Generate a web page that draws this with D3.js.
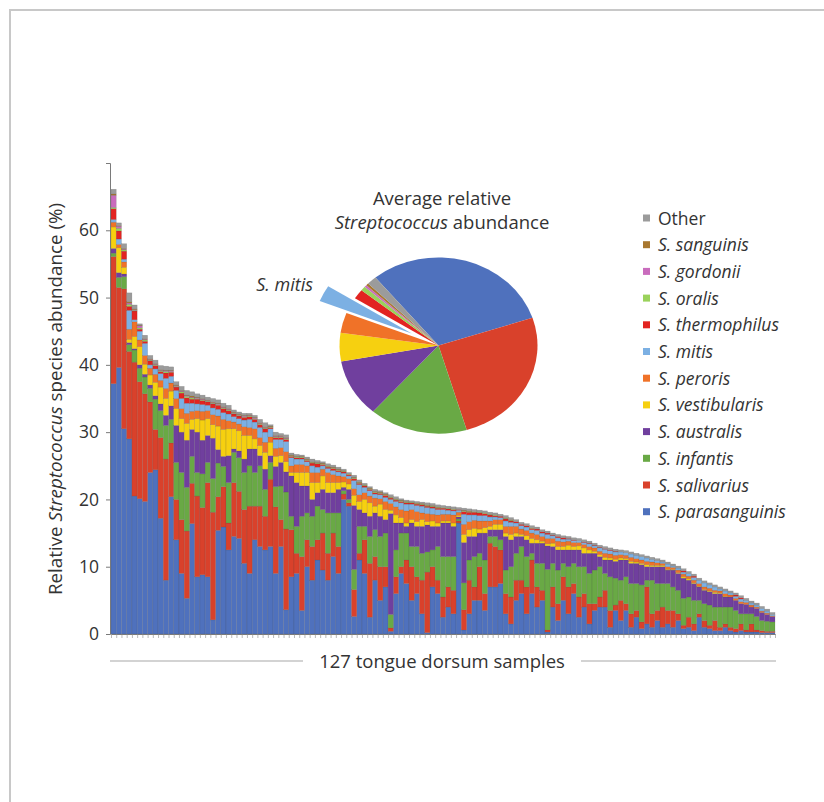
<!DOCTYPE html>
<html>
<head>
<meta charset="utf-8">
<script src="https://cdn.jsdelivr.net/npm/d3@7"></script>
<style>
  body { margin: 0; background: #fff; }
  text { font-family: "Open Sans", sans-serif; fill: #333; }
</style>
</head>
<body>
<div id="chart"></div>
<script>
// series keys, bottom of the stack first
const species = ["parasanguinis", "salivarius", "infantis", "australis", "vestibularis", "peroris",
  "mitis", "thermophilus", "oralis", "gordonii", "sanguinis", "other"];
const legendNames = ["S. parasanguinis", "S. salivarius", "S. infantis", "S. australis", "S. vestibularis",
  "S. peroris", "S. mitis", "S. thermophilus", "S. oralis", "S. gordonii", "S. sanguinis", "Other"];
const colors = ["#4f71bd", "#d9412b", "#69a945", "#703f9e", "#f6d010", "#f07228",
  "#7cb0e3", "#e22421", "#9ad25b", "#c96cbd", "#a8772f", "#9b9b9b"];

// relative abundance (%) per sample, 127 tongue dorsum samples
const parasanguinis = [37.2,39.6,30.5,29.0,20.5,20.1,19.7,24.0,24.4,17.2,
  8.0,20.4,14.0,9.0,5.3,16.4,8.5,8.8,8.5,2.1,
  15.4,15.9,12.5,14.5,14.2,10.5,9.0,14.0,13.0,12.5,
  13.0,9.0,13.0,3.6,8.5,9.0,3.5,10.0,8.0,11.0,
  9.5,8.0,11.5,9.0,20.0,19.0,2.6,11.0,9.0,2.5,
  8.0,5.0,7.0,0.4,6.0,9.0,7.5,5.0,6.0,3.0,
  0.2,7.0,6.0,2.5,4.0,3.0,16.5,0.6,3.0,5.0,
  5.0,3.5,7.0,7.0,7.5,3.0,1.5,5.0,6.0,3.0,
  6.0,4.0,5.0,0.3,4.0,2.0,5.0,3.0,6.0,2.5,
  4.0,1.5,3.5,4.0,4.0,1.0,3.5,2.0,3.5,1.0,
  2.5,0.8,1.5,1.0,2.0,1.0,1.5,1.0,2.0,0.8,
  1.0,0.5,2.5,1.0,0.8,0.5,0.5,1.0,0.5,0.3,
  0.5,0.3,0.3,0.3,0.2,0.2,0.2];
const salivarius = [18.9,11.9,20.8,13.0,19.9,17.4,16.0,10.5,6.0,12.0,
  18.0,8.0,6.0,8.0,10.0,6.0,12.0,10.0,14.0,16.0,
  5.0,6.0,4.0,8.0,7.0,8.0,10.0,5.0,6.0,5.0,
  10.0,9.9,4.0,12.0,7.0,3.0,8.0,4.0,5.0,3.0,
  5.5,4.0,3.5,4.0,0.8,0.5,4.0,1.0,5.0,8.0,
  3.5,5.0,3.0,0.5,2.5,1.0,3.5,5.0,2.5,5.0,
  9.0,3.0,2.0,3.0,3.0,3.5,0.3,3.0,5.0,2.0,
  5.0,2.5,6.5,6.0,5.0,3.0,4.0,3.0,2.0,4.0,
  5.0,3.0,1.5,0.3,3.0,2.5,3.5,4.0,1.5,3.0,
  2.0,3.0,1.0,1.5,2.5,2.5,0.8,3.0,1.0,2.0,
  1.0,1.0,5.5,2.0,1.5,3.0,2.0,2.5,1.0,0.5,
  1.5,1.0,0.5,1.0,0.5,1.5,0.5,0.5,0.5,0.5,
  1.0,0.3,1.2,0.3,0.3,0.2,0.2];
const infantis = [0.5,1.5,1.8,1.0,1.8,2.0,2.5,2.0,4.5,4.0,
  5.0,3.5,5.5,7.0,6.5,4.0,3.5,5.0,3.0,5.0,
  5.0,3.0,6.0,4.5,5.0,5.5,6.0,5.0,6.0,4.0,
  2.5,3.0,5.0,5.5,2.0,4.0,6.0,4.0,4.5,5.0,
  3.5,6.0,3.0,5.0,0.5,0.5,3.0,4.0,2.0,4.0,
  4.0,4.5,5.0,2.0,4.0,5.0,4.0,3.0,4.5,4.0,
  3.0,2.5,5.0,6.0,4.5,5.0,0.3,4.0,3.0,4.5,
  2.0,5.0,1.0,1.5,1.5,3.5,4.5,4.0,5.0,4.5,
  1.0,3.5,4.0,9.0,3.5,5.0,2.0,3.0,3.0,4.5,
  4.0,4.5,5.0,4.5,2.5,5.0,4.0,3.0,4.0,4.5,
  4.0,5.5,1.0,5.0,4.0,3.5,4.0,3.5,3.5,4.0,
  3.0,3.5,2.0,2.5,3.0,2.0,3.0,2.5,3.0,2.7,
  1.5,2.4,1.5,2.0,1.5,1.5,1.4];
const australis = [0.7,0.7,0.4,0.3,0.2,0.5,0.4,0.5,0.5,1.0,
  1.5,2.0,5.5,6.0,7.0,4.0,6.0,5.0,4.0,6.0,
  2.0,1.5,4.0,0.5,1.0,2.0,2.5,3.5,1.5,3.0,
  1.0,3.0,3.5,3.0,6.0,6.5,4.5,4.0,2.5,2.0,
  3.0,3.0,3.0,3.5,0.5,1.5,9.5,2.5,2.0,3.0,
  2.5,3.0,2.0,15.0,4.0,1.5,1.0,3.5,3.0,4.0,
  4.0,3.5,3.0,5.0,5.0,4.5,0.3,6.0,3.5,3.0,
  3.0,4.0,1.0,1.0,1.5,5.0,4.0,2.5,1.5,2.5,
  1.5,3.0,3.0,3.5,2.5,3.0,2.0,2.5,2.0,2.5,
  2.0,3.0,2.5,1.5,2.0,2.5,2.5,3.0,2.5,3.0,
  3.0,3.0,2.0,2.0,2.5,2.5,2.0,2.5,2.5,3.0,
  2.5,2.5,2.0,2.0,2.0,2.0,2.0,1.5,1.5,1.5,
  1.5,1.4,1.0,1.2,1.2,1.0,0.8];
const vestibularis = [3.2,3.7,1.0,0.5,1.8,2.7,1.5,1.5,2.0,2.5,
  2.5,2.2,2.5,2.0,2.5,1.5,2.0,3.0,2.5,2.0,
  3.5,4.0,4.0,3.0,3.0,3.5,2.0,1.5,1.5,2.5,
  2.0,1.5,1.0,1.5,0.5,1.5,2.0,2.0,2.5,1.5,
  2.0,1.5,1.5,1.0,0.8,0.8,1.5,1.2,2.0,2.0,
  1.0,1.8,1.5,0.5,1.2,0.8,0.5,0.5,0.7,1.0,
  0.5,0.8,0.5,0.3,0.3,0.5,0.2,1.2,1.0,1.2,
  0.6,0.8,0.5,0.8,0.8,0.5,0.8,0.5,0.3,0.6,
  0.7,0.5,0.3,0.3,0.5,0.5,0.5,0.7,0.5,0.6,
  0.8,0.5,0.3,0.3,0.4,0.3,0.3,0.3,0.2,0.3,
  0.2,0.2,0.3,0.2,0.2,0.2,0.1,0.1,0.1,0.2,
  0.2,0.1,0.1,0.1,0.1,0.2,0.1,0.1,0.0,0.0,
  0.0,0.0,0.0,0.0,0.0,0.0,0.0];
const peroris = [0.7,0.5,0.8,1.5,2.2,1.0,1.3,1.0,1.2,1.0,
  1.5,1.2,1.5,1.5,1.5,1.2,1.2,1.3,1.2,1.5,
  1.5,1.5,1.2,1.0,1.0,1.3,1.2,1.5,1.2,1.5,
  0.8,1.2,1.2,1.5,1.0,1.2,1.2,1.0,1.5,1.5,
  1.0,1.5,1.2,1.0,0.8,0.8,1.0,1.0,1.0,1.0,
  1.2,0.8,1.2,1.0,1.2,1.2,1.8,1.5,1.5,1.0,
  1.2,1.0,1.2,1.0,1.0,1.2,0.5,1.5,1.2,1.2,
  1.2,1.0,0.8,0.7,0.7,1.0,1.2,1.0,0.8,0.8,
  0.8,0.8,0.7,0.8,0.7,0.8,0.7,0.6,0.6,0.5,
  0.5,0.5,0.5,0.5,0.6,0.6,0.6,0.5,0.5,0.6,
  0.5,0.5,0.5,0.5,0.4,0.3,0.4,0.3,0.4,0.4,
  0.4,0.4,0.4,0.4,0.4,0.3,0.3,0.4,0.3,0.3,
  0.3,0.3,0.3,0.2,0.2,0.2,0.1];
const mitis = [0.4,0.8,0.4,2.8,0.3,1.3,1.8,0.5,0.8,1.0,
  1.5,1.0,1.2,1.5,1.5,1.2,1.0,1.0,0.8,1.0,
  1.0,1.0,1.0,0.8,0.8,1.0,1.2,1.0,1.5,1.5,
  1.2,1.3,1.2,1.5,1.2,0.8,0.8,0.6,1.0,0.8,
  0.5,0.6,0.6,0.6,0.5,0.4,1.2,1.5,0.8,0.8,
  0.6,0.6,0.6,0.6,0.8,1.0,1.0,0.8,0.9,1.0,
  0.9,0.9,0.8,0.7,0.6,0.6,0.3,1.5,1.0,0.8,
  0.8,0.8,0.6,0.4,0.3,0.8,0.6,0.5,0.5,0.5,
  0.5,0.6,0.5,0.6,0.4,0.5,0.4,0.3,0.3,0.3,
  0.3,0.4,0.3,0.5,0.6,0.5,0.5,0.4,0.4,0.5,
  0.5,0.5,0.5,0.4,0.3,0.2,0.4,0.2,0.3,0.3,
  0.4,0.4,0.5,0.6,0.5,0.5,0.3,0.4,0.3,0.3,
  0.4,0.3,0.3,0.3,0.4,0.3,0.2];
const thermophilus = [1.6,1.2,1.2,0.6,1.3,0.3,0.3,0.6,0.5,0.3,
  0.8,0.6,0.5,0.8,0.8,0.6,0.7,0.6,0.5,0.6,
  0.6,0.6,0.5,0.4,0.4,0.4,0.4,0.4,0.4,0.5,
  0.2,0.3,0.3,0.3,0.2,0.2,0.2,0.2,0.4,0.5,
  0.2,0.2,0.3,0.2,0.2,0.2,0.3,0.2,0.2,0.2,
  0.2,0.2,0.3,0.2,0.2,0.2,0.2,0.2,0.2,0.2,
  0.2,0.2,0.2,0.2,0.2,0.2,0.1,0.4,0.4,0.4,
  0.4,0.3,0.3,0.2,0.2,0.3,0.2,0.2,0.2,0.2,
  0.2,0.2,0.2,0.2,0.1,0.2,0.2,0.1,0.1,0.0,
  0.1,0.1,0.1,0.1,0.1,0.1,0.1,0.0,0.0,0.0,
  0.0,0.0,0.0,0.0,0.0,0.0,0.0,0.0,0.0,0.2,
  0.0,0.2,0.0,0.0,0.0,0.0,0.0,0.0,0.0,0.2,
  0.2,0.0,0.0,0.0,0.0,0.0,0.0];
const oralis = [0.2,0.4,0.2,0.3,0.1,0.2,0.2,0.1,0.1,0.1,
  0.2,0.1,0.1,0.2,0.2,0.2,0.1,0.1,0.1,0.1,
  0.1,0.1,0.1,0.1,0.1,0.1,0.1,0.1,0.1,0.1,
  0.1,0.1,0.1,0.1,0.1,0.1,0.1,0.1,0.1,0.1,
  0.1,0.1,0.1,0.1,0.1,0.1,0.1,0.1,0.1,0.1,
  0.1,0.1,0.1,0.1,0.1,0.1,0.1,0.1,0.1,0.1,
  0.1,0.1,0.1,0.1,0.1,0.1,0.0,0.1,0.1,0.1,
  0.1,0.1,0.1,0.1,0.0,0.1,0.1,0.0,0.0,0.0,
  0.1,0.0,0.0,0.0,0.0,0.0,0.0,0.0,0.0,0.0,
  0.0,0.0,0.0,0.0,0.0,0.0,0.0,0.0,0.0,0.0,
  0.0,0.0,0.0,0.0,0.0,0.0,0.0,0.0,0.0,0.0,
  0.0,0.0,0.0,0.0,0.0,0.0,0.0,0.0,0.0,0.0,
  0.0,0.0,0.0,0.0,0.0,0.0,0.0];
const gordonii = [1.8,0.3,0.1,0.2,0.1,0.3,0.1,0.1,0.1,0.1,
  0.1,0.1,0.1,0.1,0.1,0.1,0.1,0.1,0.1,0.1,
  0.1,0.1,0.1,0.1,0.1,0.1,0.1,0.1,0.1,0.1,
  0.0,0.1,0.1,0.1,0.0,0.0,0.0,0.0,0.0,0.0,
  0.0,0.0,0.0,0.0,0.0,0.0,0.0,0.0,0.0,0.0,
  0.0,0.0,0.0,0.0,0.0,0.0,0.0,0.0,0.0,0.0,
  0.0,0.0,0.0,0.0,0.0,0.0,0.0,0.0,0.0,0.0,
  0.0,0.0,0.0,0.0,0.0,0.0,0.0,0.0,0.0,0.0,
  0.0,0.0,0.0,0.0,0.0,0.0,0.0,0.0,0.0,0.0,
  0.0,0.0,0.0,0.0,0.0,0.0,0.0,0.0,0.0,0.0,
  0.0,0.0,0.0,0.0,0.0,0.0,0.0,0.0,0.0,0.0,
  0.0,0.0,0.0,0.0,0.0,0.0,0.0,0.0,0.0,0.0,
  0.0,0.0,0.0,0.0,0.0,0.0,0.0];
const sanguinis = [0.2,0.1,0.1,0.2,0.1,0.1,0.1,0.1,0.1,0.1,
  0.1,0.1,0.1,0.1,0.1,0.2,0.1,0.1,0.1,0.1,
  0.1,0.1,0.1,0.1,0.1,0.1,0.1,0.1,0.1,0.1,
  0.1,0.1,0.1,0.1,0.1,0.1,0.1,0.1,0.1,0.1,
  0.1,0.1,0.1,0.1,0.1,0.0,0.1,0.1,0.1,0.1,
  0.1,0.1,0.1,0.1,0.1,0.1,0.1,0.0,0.1,0.1,
  0.1,0.1,0.1,0.0,0.0,0.0,0.0,0.1,0.1,0.0,
  0.0,0.0,0.0,0.0,0.0,0.1,0.1,0.0,0.0,0.0,
  0.0,0.0,0.0,0.0,0.0,0.0,0.0,0.0,0.0,0.0,
  0.0,0.0,0.0,0.0,0.0,0.0,0.0,0.0,0.0,0.0,
  0.0,0.0,0.0,0.0,0.0,0.0,0.0,0.0,0.0,0.0,
  0.0,0.0,0.0,0.0,0.0,0.0,0.0,0.0,0.0,0.0,
  0.0,0.0,0.0,0.0,0.0,0.0,0.0];
const other = [0.7,0.4,0.7,1.3,0.6,0.2,0.5,0.5,0.5,0.6,
  0.6,0.5,0.5,0.6,0.7,0.6,0.5,0.5,0.4,0.5,
  0.5,0.5,0.5,0.3,0.3,0.3,0.2,0.3,0.5,0.6,
  0.2,0.5,0.3,0.4,0.3,0.3,0.2,0.3,0.4,0.3,
  0.2,0.3,0.3,0.3,0.2,0.2,0.3,0.3,0.2,0.2,
  0.3,0.2,0.2,0.3,0.3,0.2,0.2,0.2,0.2,0.2,
  0.3,0.3,0.3,0.3,0.3,0.3,0.3,0.3,0.3,0.3,
  0.3,0.3,0.3,0.3,0.3,0.3,0.3,0.3,0.3,0.3,
  0.3,0.3,0.3,0.3,0.3,0.3,0.3,0.3,0.3,0.3,
  0.3,0.3,0.3,0.3,0.3,0.3,0.3,0.3,0.3,0.3,
  0.3,0.3,0.3,0.3,0.3,0.3,0.3,0.3,0.3,0.3,
  0.3,0.3,0.3,0.3,0.3,0.3,0.3,0.3,0.3,0.3,
  0.3,0.3,0.3,0.3,0.3,0.3,0.3];

// average share (%) shown in the pie, same order as species
const pieShare = [30.9, 25.5, 16.1, 10.6, 5.2, 3.7, 3.0, 1.8, 0.8, 0.4, 0.4, 1.6];
const yTicks = [0, 10, 20, 30, 40, 50, 60];

const width = 824, height = 802;
const sampleCount = parasanguinis.length;

const svg = d3.select("#chart").append("svg")
  .attr("width", width)
  .attr("height", height);

// frame
svg.append("path")
  .attr("d", "M10,802V10H824")
  .attr("fill", "none")
  .attr("stroke", "#c8c8c8")
  .attr("stroke-width", 2);

const seriesValues = [parasanguinis, salivarius, infantis, australis, vestibularis, peroris,
  mitis, thermophilus, oralis, gordonii, sanguinis, other];

let rows = d3.range(sampleCount).map(i => {
  let r = { sample: i };
  species.forEach((s, k) => r[s] = seriesValues[k][i]);
  return r;
});
let stacked = d3.stack().keys(species)(rows);

const x = d3.scaleBand().domain(d3.range(sampleCount)).range([111, 775]).padding(0);
const xEdge = d3.scaleLinear().domain([0, sampleCount]).range([111, 775]);
const y = d3.scaleLinear().domain([0, 70]).range([634, 163]);

svg.append("g")
  .selectAll("g")
  .data(stacked)
  .join("g")
    .attr("fill", (d, i) => colors[i])
  .selectAll("rect")
  .data(d => d)
  .join("rect")
    .attr("x", d => x(d.data.sample))
    .attr("width", x.bandwidth())
    .attr("y", d => y(d[1]))
    .attr("height", d => Math.max(0, y(d[0]) - y(d[1])))
    .attr("stroke", "rgba(70,70,70,0.3)")
    .attr("stroke-width", 0.5);

// y axis
let yAxis = svg.append("g")
  .attr("transform", "translate(110,0)")
  .call(d3.axisLeft(y).tickValues(yTicks).tickSize(4).tickSizeOuter(4).tickPadding(7));
yAxis.select(".domain").attr("stroke", "#7a7a7a");
yAxis.selectAll(".tick line").attr("stroke", "#7a7a7a");
yAxis.selectAll(".tick text")
  .attr("font-size", 17.5)
  .attr("font-family", "'Open Sans', sans-serif")
  .attr("fill", "#333");

// x axis: a small mark at every sample edge
let xAxis = svg.append("g")
  .attr("transform", "translate(0,634)")
  .call(d3.axisBottom(xEdge).tickValues(d3.range(sampleCount + 1)).tickSize(4).tickSizeOuter(0).tickFormat(""));
xAxis.select(".domain").attr("stroke", "#7a7a7a");
xAxis.selectAll(".tick line").attr("stroke", "#8a8a8a").attr("stroke-width", 0.6);

// y label
let yLabel = svg.append("text")
  .attr("transform", "translate(62,399) rotate(-90)")
  .attr("text-anchor", "middle")
  .attr("font-size", 18.8);
yLabel.append("tspan").text("Relative ");
yLabel.append("tspan").attr("font-style", "italic").text("Streptococcus");
yLabel.append("tspan").text(" species abundance (%)");

// x label with side rules
svg.append("text")
  .attr("x", 442).attr("y", 668)
  .attr("text-anchor", "middle")
  .attr("font-size", 18.5)
  .text("127 tongue dorsum samples");
svg.append("line").attr("x1", 110).attr("x2", 303).attr("y1", 661).attr("y2", 661)
  .attr("stroke", "#c4c4c4").attr("stroke-width", 1.5);
svg.append("line").attr("x1", 581).attr("x2", 776).attr("y1", 661).attr("y2", 661)
  .attr("stroke", "#c4c4c4").attr("stroke-width", 1.5);

// pie of the average
const start = -39.6 * Math.PI / 180;
const pie = d3.pie().sort(null).startAngle(start).endAngle(start + 2 * Math.PI);
const arc = d3.arc().innerRadius(0).outerRadius(99);
const explode = 30;

let pg = svg.append("g").attr("transform", "translate(438.5,345.5) scale(1,0.89)");
pg.selectAll("path")
  .data(pie(pieShare))
  .join("path")
    .attr("d", arc)
    .attr("fill", (d, i) => colors[i])
    .attr("transform", (d, i) => {
      if (species[i] !== "mitis") return null;
      let a = (d.startAngle + d.endAngle) / 2;
      return "translate(" + (Math.sin(a) * explode) + "," + (-Math.cos(a) * explode) + ")";
    });

svg.append("text")
  .attr("x", 313).attr("y", 291)
  .attr("text-anchor", "end")
  .attr("font-size", 18)
  .attr("font-style", "italic")
  .text("S. mitis");

// pie title, two lines
svg.append("text")
  .attr("x", 442).attr("y", 205)
  .attr("text-anchor", "middle")
  .attr("font-size", 18.5)
  .text("Average relative");
let t2 = svg.append("text")
  .attr("x", 442).attr("y", 229)
  .attr("text-anchor", "middle")
  .attr("font-size", 18.5);
t2.append("tspan").attr("font-style", "italic").text("Streptococcus");
t2.append("tspan").text(" abundance");

// legend, top entry is the top of the stack
let legend = svg.append("g")
  .selectAll("g")
  .data(species.map((s, i) => i).reverse())
  .join("g")
    .attr("transform", (d, k) => "translate(643," + (218 + k * 26.7) + ")");
legend.append("rect")
  .attr("x", 0).attr("y", -3.5)
  .attr("width", 7).attr("height", 7)
  .attr("fill", d => colors[d]);
legend.append("text")
  .attr("x", 15).attr("y", 6.5)
  .attr("font-size", 17.5)
  .attr("font-style", d => species[d] === "other" ? "normal" : "italic")
  .text(d => legendNames[d]);
</script>
</body>
</html>
